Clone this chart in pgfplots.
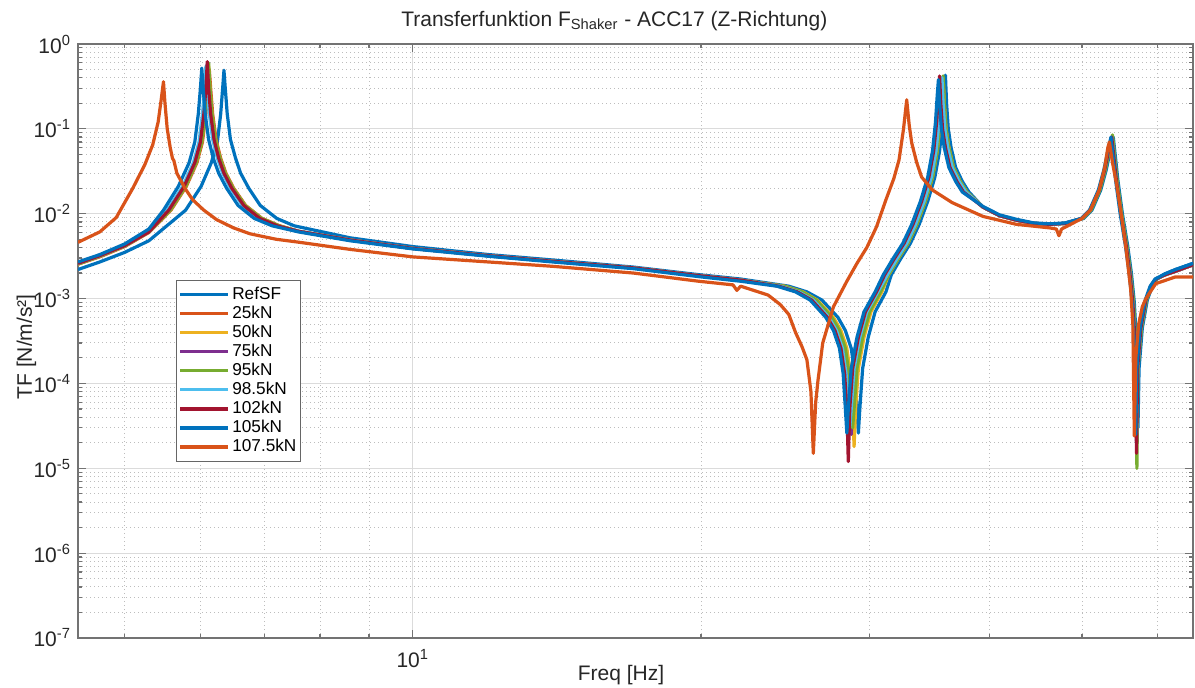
\documentclass[border=0pt]{standalone}
\usepackage{pgfplots}
\pgfplotsset{compat=1.18}
\usepackage{fontspec}
\setmainfont{Liberation Sans}
\definecolor{c1}{HTML}{0072BD}
\definecolor{c2}{HTML}{D95319}
\definecolor{c3}{HTML}{EDB120}
\definecolor{c4}{HTML}{7E2F8E}
\definecolor{c5}{HTML}{77AC30}
\definecolor{c6}{HTML}{4DBEEE}
\definecolor{c7}{HTML}{A2142F}
\begin{document}
\begin{tikzpicture}
\begin{axis}[
  at={(0,0)}, anchor=south west,
  width=557.5pt, height=297pt, scale only axis,
  xmode=log, ymode=log,
  xmin=4.47, xmax=65.3, ymin=1e-7, ymax=1,
  xtick={10}, xticklabels={10\textsuperscript{1}},
  minor xtick={5,6,7,8,9,20,30,40,50,60},
  ytick={1e-7,1e-6,1e-5,1e-4,1e-3,1e-2,1e-1,1},
  yticklabels={10\textsuperscript{-7},10\textsuperscript{-6},10\textsuperscript{-5},10\textsuperscript{-4},10\textsuperscript{-3},10\textsuperscript{-2},10\textsuperscript{-1},10\textsuperscript{0}},
  minor ytick={2e-7,3e-7,4e-7,5e-7,6e-7,7e-7,8e-7,9e-7,
    2e-6,3e-6,4e-6,5e-6,6e-6,7e-6,8e-6,9e-6,
    2e-5,3e-5,4e-5,5e-5,6e-5,7e-5,8e-5,9e-5,
    2e-4,3e-4,4e-4,5e-4,6e-4,7e-4,8e-4,9e-4,
    2e-3,3e-3,4e-3,5e-3,6e-3,7e-3,8e-3,9e-3,
    2e-2,3e-2,4e-2,5e-2,6e-2,7e-2,8e-2,9e-2,
    2e-1,3e-1,4e-1,5e-1,6e-1,7e-1,8e-1,9e-1},
  tick align=inside,
  major tick length=4pt, minor tick length=2pt,
  grid=both,
  major grid style={color=black!14, line width=0.6pt},
  minor grid style={color=black!26, dash pattern=on 0.5pt off 1.5pt, line width=0.5pt},
  axis line style={black!55, line width=0.7pt},
  every tick/.style={black!55, line width=0.6pt},
  tick label style={font=\fontsize{10.5}{12}\selectfont, text=black!85},
  xticklabel style={anchor=base, yshift=-14.5pt},
  title={Transferfunktion F\textsubscript{Shaker} - ACC17 (Z-Richtung)},
  title style={at={(axis description cs:0.481,1)}, anchor=base, yshift=3pt, font=\fontsize{10.5}{12}\selectfont, text=black!85},
  xlabel={Freq [Hz]},
  xlabel style={at={(axis description cs:0.487,0)}, anchor=base, yshift=-21pt, font=\fontsize{10.5}{12}\selectfont, text=black!85},
  ylabel={TF [N/m/s²]},
  ylabel style={at={(axis description cs:-0.0413,0.49)}, anchor=base, font=\fontsize{10.5}{12}\selectfont, text=black!85},
  legend style={at={(axis description cs:0.088,0.603)}, anchor=north west, draw=black!60, line width=0.6pt, fill=white,
    font=\fontsize{8.6}{9.6}\selectfont, inner xsep=1pt, inner ysep=1.2pt, row sep=-2.2pt, cells={anchor=west},
    nodes={inner xsep=1.2pt}},
  legend image code/.code={\draw[#1,line width=1.6pt] (0pt,0pt) -- (24pt,0pt);},
  every axis plot/.append style={line width=1.6pt, line join=round},
]
% RefSF
\addplot[c1] coordinates {(4.47,2.2e-3)(4.71,2.7e-3)(5.0,3.5e-3)(5.3,4.8e-3)
(5.79,0.011)(6.01,0.021)(6.16,0.04)(6.25,0.07)(6.30,0.15)(6.33,0.3)(6.35,0.49)(6.37,0.3)(6.40,0.15)(6.45,0.075)(6.53,0.045)(6.61,0.03)(6.74,0.02)(6.93,0.0125)(7.21,0.0088)(7.52,0.0072)
(8.6,5.2e-3)(10,4.1e-3)(12,3.3e-3)(14,2.85e-3)(17,2.35e-3)(20,1.9e-3)(22,1.7e-3)
(24.7,1.4e-3)(25.8,1.2e-3)(26.75,9.6e-4)(27.8,6e-4)(28.3,4.2e-4)(28.7,2.6e-4)(28.95,1.3e-4)(29.1,5e-5)(29.2,2.6e-5)(29.3,5e-5)(29.5,1.5e-4)(29.9,3.5e-4)(30.4,7e-4)(31.2,1.2e-3)
(31.6,1.9e-3)(32.3,2.9e-3)(33.1,4.5e-3)(33.8,7.5e-3)(34.5,0.014)(35.1,0.027)(35.5,0.055)(35.75,0.12)(35.9,0.25)(36.0,0.43)(36.1,0.2)(36.25,0.1)(36.5,0.06)(36.9,0.035)(37.5,0.024)(38.1,0.018)
(39.4,0.012)(41,0.0095)(42.7,0.0084)(44.5,0.0077)(46.3,0.0075)(48,0.0077)
(50.2,8.8e-3)(51.2,0.011)(52.3,0.019)(53.0,0.033)(53.5,0.055)(53.9,0.08)(54.2,0.045)(54.5,0.025)(55.1,0.01)(55.8,4.2e-3)(56.3,2e-3)(56.7,9e-4)(57.0,3e-4)(57.2,3e-5)(57.35,1.5e-4)(57.8,4.5e-4)(58.5,9.6e-4)(59.2,1.4e-3)(59.9,1.7e-3)
(61,1.95e-3)(62.6,2.2e-3)(65.3,2.6e-3)};
\addlegendentry{RefSF}
% 25kN
\addplot[c2] coordinates {(4.47,2.55e-3)(4.71,3.1e-3)(5.0,4.1e-3)(5.3,6.0e-3)
(5.59,0.011)(5.80,0.021)(5.95,0.04)(6.03,0.07)(6.08,0.15)(6.11,0.3)(6.13,0.5)(6.15,0.3)(6.18,0.15)(6.23,0.075)(6.30,0.045)(6.38,0.03)(6.50,0.02)(6.69,0.0125)(6.96,0.0088)(7.26,0.0072)
(7.6,6.2e-3)(8.6,4.9e-3)(10,3.9e-3)(12,3.2e-3)(14,2.75e-3)(17,2.3e-3)(20,1.85e-3)(22,1.65e-3)
(24.4,1.4e-3)(25.5,1.2e-3)(26.4,9.6e-4)(27.4,6e-4)(27.9,4.2e-4)(28.3,2.6e-4)(28.55,1.3e-4)(28.7,5e-5)(28.8,3e-5)(28.9,5e-5)(29.1,1.5e-4)(29.5,3.5e-4)(30.0,7e-4)(30.8,1.2e-3)
(31.4,1.9e-3)(32.1,2.9e-3)(32.9,4.5e-3)(33.6,7.5e-3)(34.3,0.014)(34.9,0.027)(35.3,0.055)(35.55,0.12)(35.7,0.25)(35.8,0.38)(35.9,0.2)(36.05,0.1)(36.3,0.06)(36.7,0.035)(37.3,0.024)(37.9,0.018)
(39.4,0.012)(41,0.0095)(42.7,0.0084)(44.5,0.0077)(46.3,0.0075)(48,0.0077)
(50,8.8e-3)(51,0.011)(52.1,0.019)(52.8,0.033)(53.3,0.055)(53.7,0.075)(54.0,0.045)(54.3,0.025)(54.9,0.01)(55.6,4.2e-3)(56.1,2e-3)(56.5,9e-4)(56.8,3e-4)(57.0,3e-5)(57.15,1.5e-4)(57.6,4.5e-4)(58.3,9.6e-4)(59,1.4e-3)(59.7,1.7e-3)
(61,1.9e-3)(62.6,2.1e-3)(65.3,2.5e-3)};
\addlegendentry{25kN}
% 50kN
\addplot[c3] coordinates {(4.47,2.55e-3)(4.71,3.15e-3)(5.0,4.15e-3)(5.3,6.1e-3)
(5.58,0.011)(5.79,0.021)(5.94,0.04)(6.02,0.07)(6.07,0.15)(6.10,0.3)(6.12,0.55)(6.14,0.3)(6.17,0.15)(6.22,0.075)(6.29,0.045)(6.37,0.03)(6.49,0.02)(6.68,0.0125)(6.95,0.0088)(7.25,0.0072)
(7.6,6.2e-3)(8.6,4.9e-3)(10,3.9e-3)(12,3.2e-3)(14,2.75e-3)(17,2.3e-3)(20,1.85e-3)(22,1.65e-3)
(24.45,1.4e-3)(25.55,1.2e-3)(26.45,9.6e-4)(27.5,6e-4)(28.0,4.2e-4)(28.4,2.6e-4)(28.65,1.3e-4)(28.8,5e-5)(28.9,1.8e-5)(29.0,5e-5)(29.2,1.5e-4)(29.6,3.5e-4)(30.1,7e-4)(30.9,1.2e-3)
(31.4,1.9e-3)(32.1,2.9e-3)(32.9,4.5e-3)(33.6,7.5e-3)(34.3,0.014)(34.9,0.027)(35.3,0.055)(35.55,0.12)(35.7,0.25)(35.8,0.4)(35.9,0.2)(36.05,0.1)(36.3,0.06)(36.7,0.035)(37.3,0.024)(37.9,0.018)
(39.4,0.012)(41,0.0095)(42.7,0.0084)(44.5,0.0077)(46.3,0.0075)(48,0.0077)
(50,8.8e-3)(51,0.011)(52.1,0.019)(52.8,0.033)(53.3,0.055)(53.7,0.08)(54.0,0.045)(54.3,0.025)(54.9,0.01)(55.6,4.2e-3)(56.1,2e-3)(56.5,9e-4)(56.8,3e-4)(57.0,3e-5)(57.15,1.5e-4)(57.6,4.5e-4)(58.3,9.6e-4)(59,1.4e-3)(59.7,1.7e-3)
(61,1.9e-3)(62.6,2.1e-3)(65.3,2.5e-3)};
\addlegendentry{50kN}
% 75kN
\addplot[c4] coordinates {(4.47,2.6e-3)(4.71,3.2e-3)(5.0,4.2e-3)(5.3,6.1e-3)
(5.56,0.011)(5.77,0.021)(5.92,0.04)(6.00,0.07)(6.05,0.15)(6.08,0.3)(6.10,0.58)(6.12,0.3)(6.15,0.15)(6.20,0.075)(6.27,0.045)(6.35,0.03)(6.47,0.02)(6.66,0.0125)(6.92,0.0088)(7.22,0.0072)
(7.6,6.2e-3)(8.6,4.9e-3)(10,3.9e-3)(12,3.2e-3)(14,2.75e-3)(17,2.3e-3)(20,1.85e-3)(22,1.65e-3)
(24.3,1.4e-3)(25.4,1.2e-3)(26.3,9.6e-4)(27.3,6e-4)(27.8,4.2e-4)(28.2,2.6e-4)(28.45,1.3e-4)(28.6,5e-5)(28.7,2.5e-5)(28.8,5e-5)(29.0,1.5e-4)(29.4,3.5e-4)(29.9,7e-4)(30.7,1.2e-3)
(31.3,1.9e-3)(32.0,2.9e-3)(32.8,4.5e-3)(33.5,7.5e-3)(34.2,0.014)(34.8,0.027)(35.2,0.055)(35.45,0.12)(35.6,0.25)(35.7,0.4)(35.8,0.2)(35.95,0.1)(36.2,0.06)(36.6,0.035)(37.2,0.024)(37.8,0.018)
(39.4,0.012)(41,0.0095)(42.7,0.0084)(44.5,0.0077)(46.3,0.0075)(48,0.0077)
(50,8.8e-3)(51,0.011)(52.1,0.019)(52.8,0.033)(53.3,0.055)(53.7,0.08)(54.0,0.045)(54.3,0.025)(54.9,0.01)(55.6,4.2e-3)(56.1,2e-3)(56.5,9e-4)(56.8,3e-4)(57.0,2.5e-5)(57.15,1.5e-4)(57.6,4.5e-4)(58.3,9.6e-4)(59,1.4e-3)(59.7,1.7e-3)
(61,1.9e-3)(62.6,2.1e-3)(65.3,2.5e-3)};
\addlegendentry{75kN}
% 95kN
\addplot[c5] coordinates {(4.47,2.55e-3)(4.71,3.15e-3)(5.0,4.15e-3)(5.3,6.1e-3)
(5.58,0.011)(5.79,0.021)(5.94,0.04)(6.02,0.07)(6.07,0.15)(6.10,0.3)(6.12,0.6)(6.14,0.3)(6.17,0.15)(6.22,0.075)(6.29,0.045)(6.37,0.03)(6.49,0.02)(6.68,0.0125)(6.95,0.0088)(7.25,0.0072)
(7.6,6.2e-3)(8.6,4.9e-3)(10,3.9e-3)(12,3.2e-3)(14,2.75e-3)(17,2.3e-3)(20,1.85e-3)(22,1.65e-3)
(24.4,1.4e-3)(25.5,1.2e-3)(26.4,9.6e-4)(27.4,6e-4)(27.9,4.2e-4)(28.3,2.6e-4)(28.55,1.3e-4)(28.7,5e-5)(28.8,3e-5)(28.9,5e-5)(29.1,1.5e-4)(29.5,3.5e-4)(30.0,7e-4)(30.8,1.2e-3)
(31.4,1.9e-3)(32.1,2.9e-3)(32.9,4.5e-3)(33.6,7.5e-3)(34.3,0.014)(34.9,0.027)(35.3,0.055)(35.55,0.12)(35.7,0.25)(35.8,0.42)(35.9,0.2)(36.05,0.1)(36.3,0.06)(36.7,0.035)(37.3,0.024)(37.9,0.018)
(39.4,0.012)(41,0.0095)(42.7,0.0084)(44.5,0.0077)(46.3,0.0075)(48,0.0077)
(50.1,8.8e-3)(51.1,0.011)(52.2,0.019)(52.9,0.033)(53.4,0.055)(53.8,0.085)(54.1,0.045)(54.4,0.025)(55.0,0.01)(55.7,4.2e-3)(56.2,2e-3)(56.6,9e-4)(56.9,3e-4)(57.05,1e-5)(57.2,1.5e-4)(57.7,4.5e-4)(58.4,9.6e-4)(59.1,1.4e-3)(59.8,1.7e-3)
(61,1.9e-3)(62.6,2.1e-3)(65.3,2.5e-3)};
\addlegendentry{95kN}
% 98.5kN
\addplot[c6] coordinates {(4.47,2.6e-3)(4.71,3.2e-3)(5.0,4.2e-3)(5.3,6.2e-3)
(5.54,0.011)(5.75,0.021)(5.90,0.04)(5.98,0.07)(6.03,0.15)(6.06,0.3)(6.08,0.55)(6.10,0.3)(6.13,0.15)(6.18,0.075)(6.25,0.045)(6.33,0.03)(6.45,0.02)(6.64,0.0125)(6.90,0.0088)(7.20,0.0072)
(7.6,6.2e-3)(8.6,4.9e-3)(10,3.9e-3)(12,3.2e-3)(14,2.75e-3)(17,2.3e-3)(20,1.85e-3)(22,1.65e-3)
(24.2,1.4e-3)(25.3,1.2e-3)(26.2,9.6e-4)(27.2,6e-4)(27.7,4.2e-4)(28.1,2.6e-4)(28.35,1.3e-4)(28.5,5e-5)(28.6,3e-5)(28.7,5e-5)(28.9,1.5e-4)(29.3,3.5e-4)(29.8,7e-4)(30.6,1.2e-3)
(31.3,1.9e-3)(32.0,2.9e-3)(32.8,4.5e-3)(33.5,7.5e-3)(34.2,0.014)(34.8,0.027)(35.2,0.055)(35.45,0.12)(35.6,0.25)(35.7,0.4)(35.8,0.2)(35.95,0.1)(36.2,0.06)(36.6,0.035)(37.2,0.024)(37.8,0.018)
(39.4,0.012)(41,0.0095)(42.7,0.0084)(44.5,0.0077)(46.3,0.0075)(48,0.0077)
(50,8.8e-3)(51,0.011)(52.1,0.019)(52.8,0.033)(53.3,0.055)(53.7,0.08)(54.0,0.045)(54.3,0.025)(54.9,0.01)(55.6,4.2e-3)(56.1,2e-3)(56.5,9e-4)(56.8,3e-4)(57.0,2e-5)(57.15,1.5e-4)(57.6,4.5e-4)(58.3,9.6e-4)(59,1.4e-3)(59.7,1.7e-3)
(61,1.9e-3)(62.6,2.1e-3)(65.3,2.5e-3)};
\addlegendentry{98.5kN}
% 102kN
\addplot[c7] coordinates {(4.47,2.6e-3)(4.71,3.2e-3)(5.0,4.2e-3)(5.3,6.1e-3)
(5.56,0.011)(5.77,0.021)(5.92,0.04)(6.00,0.07)(6.05,0.15)(6.08,0.3)(6.10,0.62)(6.12,0.3)(6.15,0.15)(6.20,0.075)(6.27,0.045)(6.35,0.03)(6.47,0.02)(6.66,0.0125)(6.92,0.0088)(7.22,0.0072)
(7.6,6.2e-3)(8.6,4.9e-3)(10,3.9e-3)(12,3.2e-3)(14,2.75e-3)(17,2.3e-3)(20,1.85e-3)(22,1.65e-3)
(24.1,1.4e-3)(25.2,1.2e-3)(26.1,9.6e-4)(27.1,6e-4)(27.6,4.2e-4)(28.0,2.6e-4)(28.25,1.3e-4)(28.4,5e-5)(28.5,1.2e-5)(28.6,5e-5)(28.8,1.5e-4)(29.2,3.5e-4)(29.7,7e-4)(30.5,1.2e-3)
(31.1,1.9e-3)(31.8,2.9e-3)(32.6,4.5e-3)(33.3,7.5e-3)(34.0,0.014)(34.6,0.027)(35.0,0.055)(35.25,0.12)(35.4,0.25)(35.5,0.42)(35.6,0.2)(35.75,0.1)(36.0,0.06)(36.4,0.035)(37.0,0.024)(37.6,0.018)
(39.4,0.012)(41,0.0095)(42.7,0.0084)(44.5,0.0077)(46.3,0.0075)(48,0.0077)
(50,8.8e-3)(51,0.011)(52.1,0.019)(52.8,0.033)(53.3,0.055)(53.7,0.08)(54.0,0.045)(54.3,0.025)(54.9,0.01)(55.6,4.2e-3)(56.1,2e-3)(56.5,9e-4)(56.8,3e-4)(57.0,1.5e-5)(57.15,1.5e-4)(57.6,4.5e-4)(58.3,9.6e-4)(59,1.4e-3)(59.7,1.7e-3)
(61,1.9e-3)(62.6,2.1e-3)(65.3,2.5e-3)};
\addlegendentry{102kN}
% 105kN
\addplot[c1] coordinates {(4.47,2.7e-3)(4.71,3.3e-3)(5.0,4.4e-3)(5.3,6.6e-3)
(5.49,0.011)(5.69,0.021)(5.84,0.04)(5.92,0.07)(5.97,0.15)(6.00,0.3)(6.02,0.52)(6.04,0.3)(6.07,0.15)(6.12,0.075)(6.19,0.045)(6.27,0.03)(6.39,0.02)(6.57,0.0125)(6.83,0.0088)(7.13,0.0072)
(7.6,6.1e-3)(8.6,4.8e-3)(10,3.85e-3)(12,3.15e-3)(14,2.7e-3)(17,2.25e-3)(20,1.8e-3)(22,1.6e-3)
(24.0,1.4e-3)(25.1,1.2e-3)(26.0,9.6e-4)(27.0,6e-4)(27.5,4.2e-4)(27.9,2.6e-4)(28.15,1.3e-4)(28.3,5e-5)(28.4,2.6e-5)(28.5,5e-5)(28.7,1.5e-4)(29.1,3.5e-4)(29.6,7e-4)(30.4,1.2e-3)
(31.0,1.9e-3)(31.7,2.9e-3)(32.5,4.5e-3)(33.2,7.5e-3)(33.9,0.014)(34.5,0.027)(34.9,0.055)(35.15,0.12)(35.3,0.25)(35.4,0.38)(35.5,0.2)(35.65,0.1)(35.9,0.06)(36.3,0.035)(36.9,0.024)(37.5,0.018)
(39.4,0.0122)(41,0.0097)(42.7,0.0086)(44.5,0.0078)(46.3,0.0076)(48,0.0078)
(49.9,8.8e-3)(50.9,0.011)(52.0,0.019)(52.7,0.033)(53.2,0.055)(53.6,0.08)(53.9,0.045)(54.2,0.025)(54.8,0.01)(55.5,4.2e-3)(56.0,2e-3)(56.4,9e-4)(56.7,3e-4)(56.9,2.5e-5)(57.05,1.5e-4)(57.5,4.5e-4)(58.2,9.6e-4)(58.9,1.4e-3)(59.6,1.7e-3)
(61,1.95e-3)(62.6,2.2e-3)(65.3,2.6e-3)};
\addlegendentry{105kN}
% 107.5kN
\addplot[c2] coordinates {(4.47,4.6e-3)(4.71,6.1e-3)(4.9,9e-3)(5.1,0.02)(5.25,0.038)(5.35,0.065)(5.42,0.12)(5.46,0.22)(5.49,0.36)(5.51,0.2)(5.54,0.1)(5.58,0.06)(5.61,0.045)(5.63,0.042)(5.67,0.03)(5.78,0.02)(5.89,0.0146)(6.05,0.011)(6.24,8.5e-3)(6.5,6.8e-3)(6.76,5.8e-3)(7.2,5e-3)(7.62,4.6e-3)(8.6,3.8e-3)(10,3.1e-3)(12,2.7e-3)(14,2.4e-3)(17,2.0e-3)(19.9,1.6e-3)(21,1.5e-3)(21.6,1.45e-3)(21.8,1.25e-3)(22.0,1.4e-3)(23.5,1.1e-3)(24.2,8.5e-4)(24.7,6.5e-4)(25.1,4e-4)(25.5,2.7e-4)(25.8,1.9e-4)(26.05,8e-5)(26.2,1.5e-5)(26.35,6e-5)(26.5,1.1e-4)(26.8,3e-4)(27.5,8e-4)(28.4,1.6e-3)(29.1,2.6e-3)(29.8,4e-3)(30.5,7e-3)(31.2,0.0146)(31.8,0.026)(32.2,0.043)(32.55,0.1)(32.8,0.22)(33.0,0.11)(33.2,0.068)(33.6,0.04)(34.0,0.027)(34.9,0.019)(36.6,0.0135)(39.4,0.0093)(42.7,0.0075)(46.3,0.0068)(47.0,0.0066)(47.3,0.0055)(47.6,0.0066)(50,0.0088)(51,0.011)(52.1,0.019)(52.8,0.035)(53.2,0.06)(53.4,0.07)(53.8,0.04)(54.3,0.023)(55.0,0.009)(55.6,0.0037)(56.2,0.0013)(56.5,5e-4)(56.7,2.4e-5)(56.9,2e-4)(57.3,5e-4)(57.8,8e-4)(58.3,1e-3)(59.7,1.5e-3)(62.6,1.8e-3)(65.3,1.8e-3)};
\addlegendentry{107.5kN}
\end{axis}
\pgfresetboundingbox
\path[use as bounding box] (-39pt,-24.5pt) rectangle (558.5pt,319pt);
\end{tikzpicture}
\end{document}
